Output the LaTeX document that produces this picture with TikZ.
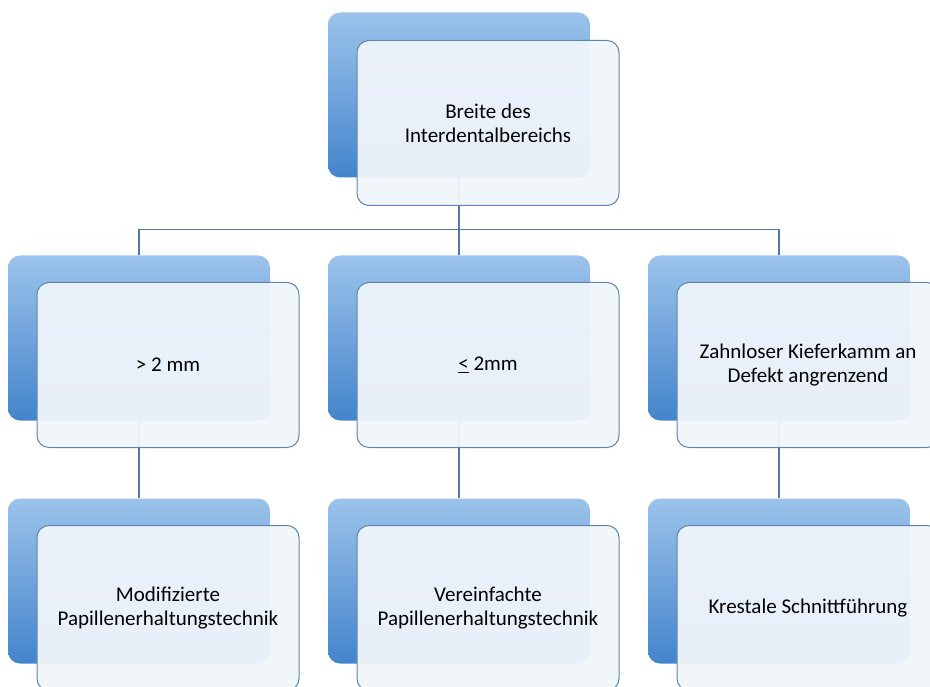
\documentclass[tikz,border=0pt]{standalone}
\usepackage{fontspec}
\setmainfont{Carlito}
\usetikzlibrary{backgrounds}
\definecolor{blueTop}{RGB}{155,195,235}
\definecolor{blueBottom}{RGB}{68,132,204}
\definecolor{paleBlue}{RGB}{240,245,251}
\definecolor{frameBlue}{RGB}{95,135,172}
\definecolor{lineBlue}{RGB}{78,122,165}
\begin{document}
\begin{tikzpicture}[x=1pt,y=-1pt,
    backbox/.style={rounded corners=12pt, minimum width=262pt, minimum height=165pt, inner sep=0pt,
        top color=blueTop, bottom color=blueBottom},
    frontbox/.style={rounded corners=12pt, minimum width=262pt, minimum height=165pt, inner sep=0pt,
        draw=frameBlue, line width=1pt, fill=paleBlue, fill opacity=0.95, text opacity=1,
        align=center, font=\fontsize{21}{24}\selectfont},
    link/.style={draw=lineBlue, line width=1.2pt}]
    \useasboundingbox (0,0) rectangle (930,687);
    \clip (0,0) rectangle (930,687);
    % top
    \node [backbox] (topback) at (459,95) {};
    \node [frontbox] (topfront) at (488,123) {Breite des\\Interdentalbereichs};
    % second row
    \node [backbox] (wideback) at (139,338) {};
    \node [frontbox] (widefront) at (168,365) {> 2 mm};
    \node [backbox] (narrowback) at (459,338) {};
    \node [frontbox] (narrowfront) at (488,365) {\underline{<} 2mm};
    \node [backbox] (ridgeback) at (779,338) {};
    \node [frontbox] (ridgefront) at (808,365) {Zahnloser Kieferkamm an\\Defekt angrenzend};
    % third row
    \node [backbox] (modback) at (139,581) {};
    \node [frontbox] (modfront) at (168,608) {Modifizierte\\Papillenerhaltungstechnik};
    \node [backbox] (simpleback) at (459,581) {};
    \node [frontbox] (simplefront) at (488,608) {Vereinfachte\\Papillenerhaltungstechnik};
    \node [backbox] (crestback) at (779,581) {};
    \node [frontbox] (crestfront) at (808,608) {Krestale Schnittf\"uhrung};
    \begin{scope}[on background layer]
        \draw [link] (topback.south) -- ++(0,52) -| (wideback.north);
        \draw [link] (topback.south) -- ++(0,52) -| (ridgeback.north);
        \draw [link] (topback.south) -- (narrowback.north);
        \draw [link] (wideback.south) -- (modback.north);
        \draw [link] (narrowback.south) -- (simpleback.north);
        \draw [link] (ridgeback.south) -- (crestback.north);
    \end{scope}
\end{tikzpicture}
\end{document}
